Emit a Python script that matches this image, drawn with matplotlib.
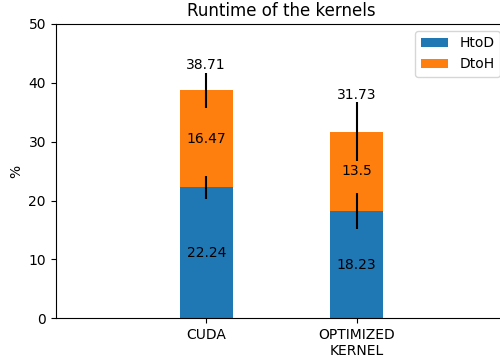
import matplotlib
matplotlib.use("Agg")
import matplotlib.pyplot as plt
import numpy as np

# --- DATA ---
KERNELS = ["CUDA", "OPTIMIZED\nKERNEL"]
HTOD = [22.24, 18.23]
DTOH = [16.47, 13.5]
HTOD_ERR = [2.0, 3.0]
DTOH_ERR = [2.95, 5.0]

WIDTH = 0.35


def plot_results():
    fig = plt.figure(figsize=(5, 3.57), dpi=100)
    # axes run a bit past the right border, like the cropped original
    ax = fig.add_axes([0.1114, 0.1084, 0.903, 0.8244])

    x = np.arange(len(KERNELS))
    totals = [h + d for h, d in zip(HTOD, DTOH)]

    ax.bar(x, HTOD, WIDTH, yerr=HTOD_ERR, label="HtoD", color="#1f77b4",
           error_kw=dict(ecolor="black", lw=1.5))
    ax.bar(x, DTOH, WIDTH, bottom=HTOD, yerr=DTOH_ERR, label="DtoH",
           color="#ff7f0e", error_kw=dict(ecolor="black", lw=1.5))

    for i in range(len(KERNELS)):
        ax.text(x[i], HTOD[i] / 2, f"{HTOD[i]:g}", ha="center", va="center", fontsize=10)
        ax.text(x[i], HTOD[i] + DTOH[i] / 2, f"{DTOH[i]:g}", ha="center", va="center", fontsize=10)
        ax.text(x[i], totals[i] + DTOH_ERR[i] + 0.1, f"{totals[i]:.2f}",
                ha="center", va="bottom", fontsize=10)

    ax.set_xlim(-1, 2)
    ax.set_ylim(0, 50)
    ax.set_xticks(x)
    ax.set_xticklabels(KERNELS)
    ax.set_ylabel("%")
    ax.set_title("Runtime of the kernels")
    ax.legend(loc="upper right")

    fig.savefig("out.png", dpi=100)


if __name__ == "__main__":
    plot_results()
